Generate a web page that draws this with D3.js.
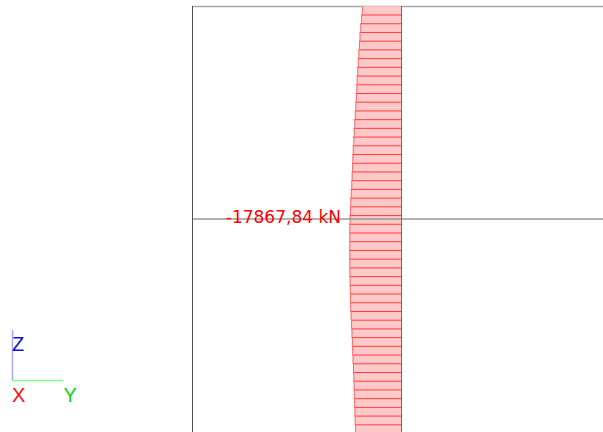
<!DOCTYPE html>
<html>
<head>
<meta charset="utf-8">
<script src="https://cdn.jsdelivr.net/npm/d3@7"></script>
<style>
  html, body { margin: 0; padding: 0; background: #fff; }
  svg { display: block; }
</style>
</head>
<body>
<svg id="chart" width="603" height="432"></svg>
<script>
// ---- data ----
// segment start depth along the column (m, from top node)
const stations = [0.0, 0.2, 0.4, 0.6, 0.8, 1.0, 1.2, 1.4, 1.6, 1.8,
  2.0, 2.2, 2.4, 2.6, 2.8, 3.0, 3.2, 3.4, 3.6, 3.8,
  4.0, 4.2, 4.4, 4.6, 4.8, 5.0, 5.2, 5.4, 5.6, 5.8,
  6.0, 6.2, 6.4, 6.6, 6.8, 7.0, 7.2, 7.4, 7.6, 7.8,
  8.0, 8.2, 8.4, 8.6, 8.8, 9.0, 9.2, 9.4, 9.6, 9.8];
const segmentLength = 0.2;
// axial force N per segment (kN)
const axialForce = [-13513, -13790, -14066, -14308, -14515, -14723, -14930, -15137, -15310, -15448,
  -15621, -15759, -15967, -16140, -16312, -16485, -16658, -16796, -16900, -17038,
  -17176, -17349, -17487, -17660, -17764, -17833, -17850, -17867.84, -17862, -17845,
  -17820, -17764, -17695, -17626, -17522, -17384, -17245, -17107, -16969, -16865,
  -16727, -16589, -16451, -16381, -16312, -16209, -16105, -16001, -15898, -15828];
const nodeDepth = 4.88;
const labelText = "-17867,84 kN";
const axisLabels = ["Z", "X", "Y"];

// ---- layout ----
const svg = d3.select("#chart");
const W = 603, H = 432;

const y = d3.scaleLinear().domain([0, 9.76]).range([6.3, 431.8]);
const x = d3.scaleLinear().domain([-20000, 0]).range([343.13, 401]);

// frame lines
svg.append("line").attr("x1", 192).attr("x2", W).attr("y1", 6.5).attr("y2", 6.5)
  .attr("stroke", "#a8a8a8").attr("stroke-width", 1.5);

const data = stations.map((s, i) => ({ s, v: axialForce[i] }));

const g = svg.append("g");
// fills
g.selectAll("rect.seg").data(data).join("rect")
  .attr("class", "seg")
  .attr("x", d => x(d.v))
  .attr("width", d => x(0) - x(d.v))
  .attr("y", d => y(d.s))
  .attr("height", d => y(d.s + segmentLength) - y(d.s))
  .attr("fill", "#ffc9c9");
// hatch lines at station boundaries
g.selectAll("line.hatch").data(data.slice(1)).join("line")
  .attr("class", "hatch")
  .attr("x1", d => x(d.v)).attr("x2", x(0))
  .attr("y1", d => y(d.s)).attr("y2", d => y(d.s))
  .attr("stroke", "#ff3c3c").attr("stroke-width", 1);
// left edges
g.selectAll("line.edge").data(data).join("line")
  .attr("class", "edge")
  .attr("x1", d => x(d.v) + 0.5).attr("x2", d => x(d.v) + 0.5)
  .attr("y1", d => y(d.s)).attr("y2", d => y(d.s + segmentLength))
  .attr("stroke", "#ff6a6a").attr("stroke-width", 1);

// mid node line
svg.append("line").attr("x1", 192).attr("x2", W).attr("y1", y(nodeDepth)).attr("y2", y(nodeDepth))
  .attr("stroke", "#9a9a9a").attr("stroke-width", 1.5);

// column line
svg.append("line").attr("x1", x(0) + 0.5).attr("x2", x(0) + 0.5).attr("y1", 6).attr("y2", H)
  .attr("stroke", "#7c6a6a").attr("stroke-width", 1);

// left frame line
svg.append("line").attr("x1", 192.5).attr("x2", 192.5).attr("y1", 6).attr("y2", H)
  .attr("stroke", "#505050").attr("stroke-width", 1);

// value label
svg.append("text")
  .attr("x", 341).attr("y", y(nodeDepth) + 3.5)
  .attr("text-anchor", "end")
  .attr("font-family", "DejaVu Sans, Verdana, sans-serif")
  .attr("font-size", 17)
  .attr("fill", "#ff0000")
  .text(labelText);

// axis triad
svg.append("line").attr("x1", 12.5).attr("x2", 12.5).attr("y1", 330).attr("y2", 381)
  .attr("stroke", "#a8a8ff").attr("stroke-width", 1.5);
svg.append("line").attr("x1", 12).attr("x2", 63).attr("y1", 380.5).attr("y2", 380.5)
  .attr("stroke", "#80ff80").attr("stroke-width", 1.5);
const triad = [
  { t: axisLabels[0], x: 12, y: 350.5, c: "#1010e0" },
  { t: axisLabels[1], x: 12, y: 401.5, c: "#ff1010" },
  { t: axisLabels[2], x: 63.5, y: 401.5, c: "#10d010" }
];
svg.selectAll("text.triad").data(triad).join("text")
  .attr("class", "triad")
  .attr("x", d => d.x).attr("y", d => d.y)
  .attr("font-family", "Liberation Sans, Arial, sans-serif")
  .attr("font-size", 20)
  .attr("fill", d => d.c)
  .text(d => d.t);
</script>
</body>
</html>
